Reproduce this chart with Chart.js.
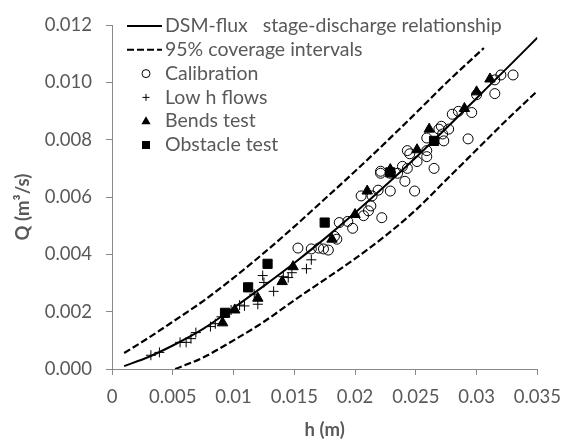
<!DOCTYPE html>
<html>
<head>
<meta charset="utf-8">
<script src="https://cdn.jsdelivr.net/npm/chart.js@4"></script>
<style>
  body { margin: 0; background: #fff; }
  #wrap { width: 572px; height: 442px; }
</style>
</head>
<body>
<div id="wrap"><canvas id="ratingChart" width="572" height="442"></canvas></div>
<script>
// fitted stage-discharge curve and its 95% band
var hFit = [0.001, 0.003, 0.005, 0.0075, 0.01, 0.0125, 0.015, 0.0175, 0.02, 0.0225, 0.025, 0.0275, 0.03, 0.0325, 0.035];
var qFit = [0.00010, 0.00042, 0.00082, 0.00140, 0.00213, 0.00290, 0.00370, 0.00455, 0.00545, 0.00640, 0.00738, 0.00840, 0.00945, 0.01050, 0.01156];
var hUpper = [0.001, 0.0025, 0.005, 0.0075, 0.01, 0.0125, 0.015, 0.0175, 0.02, 0.0225, 0.025, 0.0275, 0.0306];
var qUpper = [0.00056, 0.00095, 0.00165, 0.00237, 0.00318, 0.00405, 0.00497, 0.00593, 0.00690, 0.00790, 0.00893, 0.00998, 0.01120];
var hLower = [0.0052, 0.0075, 0.01, 0.0125, 0.015, 0.0175, 0.02, 0.0225, 0.025, 0.0275, 0.03, 0.0325, 0.035];
var qLower = [0.00000, 0.00040, 0.00100, 0.00165, 0.00240, 0.00312, 0.00385, 0.00465, 0.00555, 0.00660, 0.00765, 0.00870, 0.00970];

// measured points
var hCal = [0.0153, 0.0164, 0.0170, 0.0174, 0.0178, 0.0183, 0.0185, 0.0187, 0.0194, 0.0198, 0.0205, 0.0207, 0.0211, 0.0213, 0.0214, 0.0219, 0.0222, 0.0221, 0.0221, 0.0229, 0.0229, 0.0235, 0.0239, 0.0241, 0.0243, 0.0243, 0.0245, 0.0249, 0.0251, 0.0259, 0.0259, 0.0259, 0.0265, 0.0269, 0.0271, 0.0272, 0.0273, 0.0277, 0.0280, 0.0285, 0.0293, 0.0296, 0.0300, 0.0315, 0.0315, 0.0320, 0.0330];
var qCal = [0.00422, 0.00419, 0.00422, 0.00419, 0.00415, 0.00463, 0.00453, 0.00511, 0.00515, 0.00491, 0.00604, 0.00535, 0.00552, 0.00569, 0.00604, 0.00624, 0.00528, 0.00683, 0.00690, 0.00621, 0.00683, 0.00683, 0.00707, 0.00655, 0.00762, 0.00700, 0.00751, 0.00621, 0.00724, 0.00741, 0.00806, 0.00762, 0.00700, 0.00837, 0.00847, 0.00820, 0.00796, 0.00837, 0.00889, 0.00899, 0.00803, 0.00895, 0.00957, 0.00961, 0.01009, 0.01026, 0.01026];
var hLowFlow = [0.0032, 0.0039, 0.0056, 0.0061, 0.0065, 0.0069, 0.0081, 0.0085, 0.0090, 0.0098, 0.0105, 0.0109, 0.0120, 0.0117, 0.0124, 0.0125, 0.0133, 0.0141, 0.0145, 0.0148, 0.0160, 0.0164];
var qLowFlow = [0.00048, 0.00058, 0.00093, 0.00093, 0.00106, 0.00127, 0.00148, 0.00158, 0.00182, 0.00206, 0.00223, 0.00220, 0.00226, 0.00261, 0.00326, 0.00302, 0.00271, 0.00322, 0.00319, 0.00336, 0.00350, 0.00381];
var hBend = [0.0091, 0.0101, 0.0120, 0.0140, 0.0149, 0.0181, 0.0200, 0.0210, 0.0229, 0.0251, 0.0261, 0.0290, 0.0300, 0.0311];
var qBend = [0.00161, 0.00206, 0.00247, 0.00305, 0.00357, 0.00453, 0.00539, 0.00621, 0.00696, 0.00765, 0.00837, 0.00909, 0.00967, 0.01012];
var hObst = [0.0093, 0.0112, 0.0128, 0.0175, 0.0229, 0.0265];
var qObst = [0.00196, 0.00285, 0.00367, 0.00511, 0.00686, 0.00796];

var xTickLabels = ['0', '0.005', '0.01', '0.015', '0.02', '0.025', '0.03', '0.035'];
var yTickLabels = ['0.000', '0.002', '0.004', '0.006', '0.008', '0.010', '0.012'];
var yTitle = 'Q (m³/s)';

var axisGrey = '#898989';
var textGrey = '#595959';

function toPoints(hs, qs){
    var pts = [];
    for(let i=0; i<hs.length; i++){
        pts.push({x: hs[i], y: qs[i]});
    }
    return pts;
}

// legend drawn inside the plot, top left, like the original
// (also the Q title, which sits a bit below the middle of the axis)
const insideLegend = {
    id: 'insideLegend',
    afterDraw(chart){
        const ctx = chart.ctx;
        let row = 0;
        ctx.save();
        ctx.font = '19.5px Lato';
        ctx.textBaseline = 'middle';
        chart.data.datasets.forEach(ds => {
            if(!ds.label) return;
            const y = 26 + row * 23.8;
            ctx.strokeStyle = '#000';
            ctx.fillStyle = '#000';
            if(ds.showLine){
                ctx.lineWidth = 2;
                ctx.setLineDash(ds.borderDash || []);
                ctx.beginPath();
                ctx.moveTo(127, y);
                ctx.lineTo(162, y);
                ctx.stroke();
                ctx.setLineDash([]);
            }else{
                const cx = 146;
                ctx.lineWidth = 1;
                ctx.beginPath();
                if(ds.pointStyle === 'circle'){
                    ctx.arc(cx, y, 4, 0, Math.PI * 2);
                    ctx.stroke();
                }else if(ds.pointStyle === 'cross'){
                    ctx.moveTo(cx - 3.5, y); ctx.lineTo(cx + 3.5, y);
                    ctx.moveTo(cx, y - 3.5); ctx.lineTo(cx, y + 3.5);
                    ctx.stroke();
                }else if(ds.pointStyle === 'triangle'){
                    ctx.moveTo(cx, y - 5); ctx.lineTo(cx + 4.6, y + 3); ctx.lineTo(cx - 4.6, y + 3);
                    ctx.closePath();
                    ctx.fill();
                }else{
                    ctx.rect(cx - 4, y - 4, 8, 8);
                    ctx.fill();
                }
            }
            ctx.fillStyle = textGrey;
            ctx.fillText(ds.label, 165, y);
            row++;
        });

        ctx.translate(23, 207);
        ctx.rotate(-Math.PI / 2);
        ctx.font = 'bold 18.5px Lato';
        ctx.textAlign = 'center';
        ctx.fillStyle = textGrey;
        ctx.fillText(yTitle, 0, 0);
        ctx.restore();
    }
};

const ctx = document.getElementById('ratingChart').getContext('2d');
new Chart(ctx, {
    type: 'scatter',
    data: {
        datasets: [
            {
                label: 'DSM-flux   stage-discharge relationship',
                data: toPoints(hFit, qFit),
                showLine: true,
                borderColor: '#000',
                borderWidth: 2,
                pointRadius: 0,
                cubicInterpolationMode: 'monotone',
                order: 10
            },
            {
                label: '95% coverage intervals',
                data: toPoints(hUpper, qUpper),
                showLine: true,
                borderColor: '#000',
                borderWidth: 2.2,
                borderDash: [7, 3],
                pointRadius: 0,
                cubicInterpolationMode: 'monotone',
                order: 10
            },
            {
                data: toPoints(hLower, qLower),
                showLine: true,
                borderColor: '#000',
                borderWidth: 2.2,
                borderDash: [7, 3],
                pointRadius: 0,
                cubicInterpolationMode: 'monotone',
                order: 10
            },
            {
                label: 'Calibration',
                data: toPoints(hCal, qCal),
                pointStyle: 'circle',
                pointRadius: 5,
                borderColor: '#000',
                backgroundColor: 'rgba(255,255,255,0)',
                borderWidth: 1,
                order: 4
            },
            {
                label: 'Low h flows',
                data: toPoints(hLowFlow, qLowFlow),
                pointStyle: 'cross',
                pointRadius: 5,
                borderColor: '#000',
                borderWidth: 1,
                order: 3
            },
            {
                label: 'Bends test',
                data: toPoints(hBend, qBend),
                pointStyle: 'triangle',
                pointRadius: 6,
                borderColor: '#000',
                backgroundColor: '#000',
                borderWidth: 1,
                order: 2
            },
            {
                label: 'Obstacle test',
                data: toPoints(hObst, qObst),
                pointStyle: 'rect',
                pointRadius: 6.5,
                borderColor: '#000',
                backgroundColor: '#000',
                borderWidth: 1,
                order: 1
            }
        ]
    },
    options: {
        responsive: false,
        animation: false,
        layout: {
            padding: {left: 0, right: 27, top: 19, bottom: 0}
        },
        plugins: {
            legend: {display: false},
            tooltip: {enabled: false}
        },
        scales: {
            x: {
                type: 'linear',
                min: 0,
                max: 0.035,
                afterFit: (scale) => { scale.height = 73; },
                border: {color: axisGrey, width: 1},
                grid: {drawOnChartArea: false, drawTicks: true, tickLength: 6, color: axisGrey},
                ticks: {
                    stepSize: 0.005,
                    padding: 11,
                    color: textGrey,
                    font: {family: 'Lato', size: 18.5},
                    maxRotation: 0,
                    callback: (value, index) => xTickLabels[index]
                },
                title: {
                    display: true,
                    text: 'h (m)',
                    color: textGrey,
                    font: {family: 'Lato', size: 18.5, weight: 'bold'},
                    padding: {top: 0, bottom: 1}
                }
            },
            y: {
                type: 'linear',
                min: 0,
                max: 0.012,
                afterFit: (scale) => { scale.width = 112; },
                border: {color: axisGrey, width: 1},
                grid: {drawOnChartArea: false, drawTicks: true, tickLength: 6, color: axisGrey},
                ticks: {
                    stepSize: 0.002,
                    padding: 14,
                    color: textGrey,
                    font: {family: 'Lato', size: 18.5},
                    callback: (value, index) => yTickLabels[index]
                }
            }
        }
    },
    plugins: [insideLegend]
});
</script>
</body>
</html>
